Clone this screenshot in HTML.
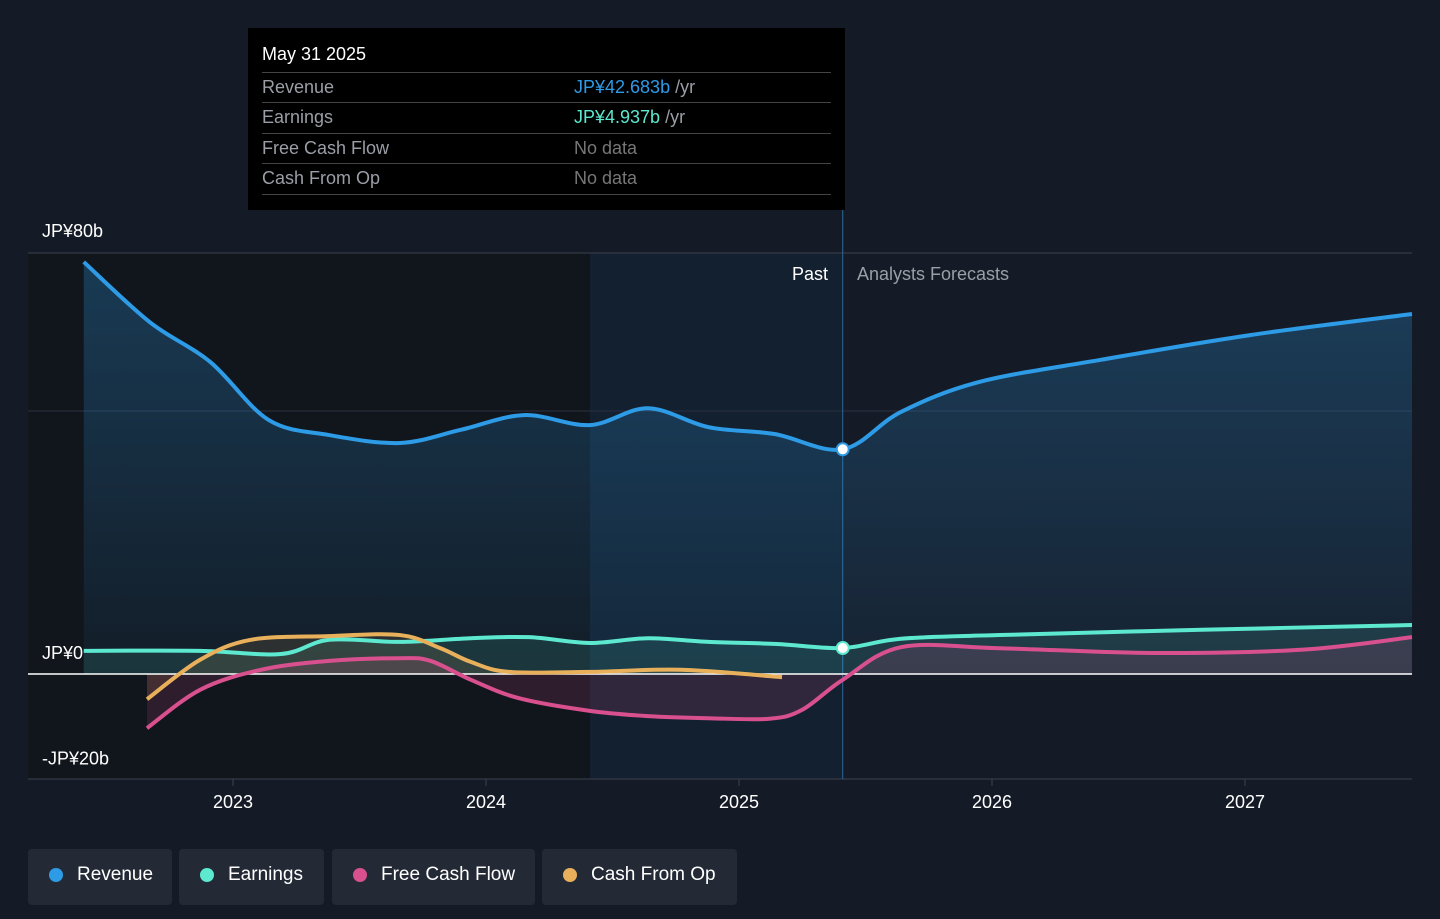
<!DOCTYPE html>
<html><head><meta charset="utf-8"><style>
body{margin:0;width:1440px;height:919px;background:#151b26;font-family:"Liberation Sans",sans-serif;overflow:hidden;position:relative}
svg{position:absolute;left:0;top:0}
.tt{position:absolute;left:248px;top:28px;width:597px;height:182px;background:#000}
.tt .h{position:absolute;left:14px;top:16px;color:#fff;font-size:18px}
.row{position:absolute;left:14px;width:569px;height:30px;border-top:1px solid #444;font-size:18px;color:#9a9ea6}
.row span{position:absolute;top:4px}
.row .v{left:312px}
.leg{position:absolute;top:849px;height:56px;background:#232a36;border-radius:4px;color:#fff;font-size:19px;line-height:52px}
.leg i{position:absolute;left:21px;top:19px;width:14px;height:14px;border-radius:50%}
.leg span{position:absolute;left:49px}
</style></head><body>
<svg id="c" width="1440" height="919"></svg>
<div class="tt">
<div class="h">May 31 2025</div>
<div class="row" style="top:44px"><span>Revenue</span><span class="v"><b style="color:#2d9be6;font-weight:normal">JP¥42.683b</b> /yr</span></div>
<div class="row" style="top:74px"><span>Earnings</span><span class="v"><b style="color:#5de8d0;font-weight:normal">JP¥4.937b</b> /yr</span></div>
<div class="row" style="top:105px"><span>Free Cash Flow</span><span class="v" style="color:#777">No data</span></div>
<div class="row" style="top:135px;border-bottom:1px solid #444"><span>Cash From Op</span><span class="v" style="color:#777">No data</span></div>
</div>
<div class="leg" style="left:28px;width:144px"><i style="background:#2d9be6"></i><span>Revenue</span></div>
<div class="leg" style="left:179px;width:145px"><i style="background:#5de8d0"></i><span>Earnings</span></div>
<div class="leg" style="left:332px;width:203px"><i style="background:#d9508f"></i><span>Free Cash Flow</span></div>
<div class="leg" style="left:542px;width:195px"><i style="background:#e9b05c"></i><span>Cash From Op</span></div>
<script>
const revX=[2022.41,2022.67,2022.91,2023.14,2023.38,2023.66,2023.90,2024.15,2024.41,2024.64,2024.88,2025.14,2025.41,2025.64,2025.95,2026.43,2027.02,2027.66];
const revY=[78.3,66.9,59.3,48.3,45.4,43.9,46.4,49.2,47.3,50.5,46.9,45.6,42.7,49.8,55.5,59.7,64.4,68.4];
const earnX=[2022.41,2022.87,2023.19,2023.38,2023.66,2023.94,2024.17,2024.41,2024.64,2024.88,2025.15,2025.41,2025.64,2026.03,2026.83,2027.66];
const earnY=[4.4,4.4,3.8,6.5,6.1,6.8,7.0,5.9,6.8,6.1,5.7,4.94,6.7,7.4,8.4,9.3];
const fcfX=[2022.66,2022.87,2023.11,2023.38,2023.66,2023.78,2023.94,2024.13,2024.41,2024.64,2024.88,2025.12,2025.25,2025.41,2025.64,2026.03,2026.63,2027.22,2027.66];
const fcfY=[-10.3,-3.0,0.8,2.5,3.0,2.5,-1.1,-4.6,-7.0,-8.0,-8.4,-8.5,-6.8,-1.1,5.1,4.9,4.0,4.6,7.0];
const cfoX=[2022.66,2022.87,2023.07,2023.38,2023.66,2023.82,2023.94,2024.09,2024.41,2024.77,2025.17];
const cfoY=[-4.8,2.7,6.5,7.2,7.4,4.9,2.3,0.4,0.4,0.8,-0.6];
const yTicks=[80,0,-20];const yLabels=["JP¥80b","JP¥0","-JP¥20b"];
const xTicks=[2023,2024,2025,2026,2027];
const X=t=>233+(t-2023)*253, Y=v=>674-v*5.2625;
const svg=document.getElementById('c');const NS='http://www.w3.org/2000/svg';
function el(tag,a,name,txt){const e=document.createElementNS(NS,tag);for(const k in a)e.setAttribute(k,a[k]);


if(txt!==undefined)e.textContent=txt;svg.appendChild(e);return e;}
function path(xs,ys){const p=xs.map((x,i)=>[X(x),Y(ys[i])]);let d='M'+p[0][0]+','+p[0][1];
for(let i=0;i<p.length-1;i++){const p0=p[i-1]||p[i],p1=p[i],p2=p[i+1],p3=p[i+2]||p2;
d+=`C${p1[0]+(p2[0]-p0[0])/6},${p1[1]+(p2[1]-p0[1])/6} ${p2[0]-(p3[0]-p1[0])/6},${p2[1]-(p3[1]-p1[1])/6} ${p2[0]},${p2[1]}`;}return d;}
const past=X(2025.41);
svg.innerHTML='<defs><linearGradient id="gb" x1="0" y1="0" x2="0" y2="1"><stop offset="0" stop-color="#2d9be6" stop-opacity=".28"/><stop offset="1" stop-color="#2d9be6" stop-opacity=".06"/></linearGradient></defs>';
el('rect',{x:28,y:253,width:562,height:526,fill:'#11151c'},'past-region');
el('rect',{x:590,y:253,width:past-590,height:526,fill:'#13202f'},'highlight-region');
el('line',{x1:28,x2:1412,y1:Y(80),y2:Y(80),stroke:'#3a414d'},'grid-80');
el('line',{x1:28,x2:1412,y1:411,y2:411,stroke:'#2a3140'},'grid-50');
el('line',{x1:28,x2:1412,y1:779,y2:779,stroke:'#3a414d'},'x-axis');
el('line',{x1:past,x2:past,y1:210,y2:779,stroke:'#2d6a9a'},'past-divider');
yTicks.forEach((v,i)=>el('text',{x:42,y:Y(v)-15+(v==80?-1:0),fill:'#fff','font-size':18},'y-label',yLabels[i]));
xTicks.forEach(t=>{el('line',{x1:X(t),x2:X(t),y1:779,y2:786,stroke:'#3a414d'},'x-tick');el('text',{x:X(t),y:808,fill:'#fff','font-size':18,'text-anchor':'middle'},'x-label',t);});
el('text',{x:828,y:280,fill:'#fff','font-size':18,'text-anchor':'end'},'past-label','Past');
el('text',{x:857,y:280,fill:'#9a9ea6','font-size':18},'forecast-label','Analysts Forecasts');
const rp=path(revX,revY);
el('path',{d:rp+`L${X(revX[revX.length-1])},674L${X(revX[0])},674Z`,fill:'url(#gb)'},'revenue-area');
const ep=path(earnX,earnY);
el('path',{d:ep+`L${X(earnX[earnX.length-1])},674L${X(earnX[0])},674Z`,fill:'#5de8d0','fill-opacity':.12},'earnings-area');
const fp=path(fcfX,fcfY);
el('path',{d:fp+`L${X(fcfX[fcfX.length-1])},674L${X(fcfX[0])},674Z`,fill:'#d9508f','fill-opacity':.15},'fcf-area');
const cp=path(cfoX,cfoY);
el('path',{d:cp+`L${X(cfoX[cfoX.length-1])},674L${X(cfoX[0])},674Z`,fill:'#e9b05c','fill-opacity':.12},'cfo-area');
el('line',{x1:28,x2:1412,y1:674,y2:674,stroke:'#fff','stroke-width':1.5},'zero-line');
el('path',{d:rp,fill:'none',stroke:'#2d9be6','stroke-width':4},'revenue-line');
el('path',{d:ep,fill:'none',stroke:'#5de8d0','stroke-width':4},'earnings-line');
el('path',{d:fp,fill:'none',stroke:'#d9508f','stroke-width':4},'fcf-line');
el('path',{d:cp,fill:'none',stroke:'#e9b05c','stroke-width':4},'cfo-line');
el('circle',{cx:past,cy:Y(revY[12]),r:6,fill:'#fff',stroke:'#2d9be6','stroke-width':2},'revenue-marker');
el('circle',{cx:past,cy:Y(earnY[11]),r:6,fill:'#fff',stroke:'#5de8d0','stroke-width':2},'earnings-marker');
</script>
</body></html>
